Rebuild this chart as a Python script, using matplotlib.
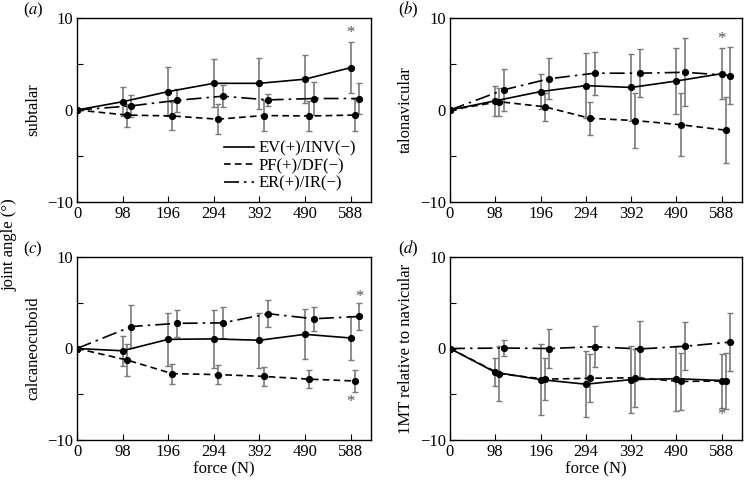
import matplotlib
matplotlib.use("Agg")
import matplotlib.pyplot as plt
from matplotlib.lines import Line2D
import numpy as np

plt.rcParams['font.family'] = ['Liberation Serif', 'DejaVu Serif']
plt.rcParams['mathtext.fontset'] = 'stix'

force = [0, 98, 196, 294, 392, 490, 588]
xticklabels = ['0', '98', '196', '294', '392', '490', '588']
series_names = ['EV(+)/INV(\u2212)', 'PF(+)/DF(\u2212)', 'ER(+)/IR(\u2212)']
panel_letters = ['a', 'b', 'c', 'd']
panel_ylabels = ['subtalar', 'talonavicular', 'calcaneocuboid', '1MT relative to navicular']

# panel (a) subtalar
a_ev = [0, 0.9, 2.0, 2.9, 2.9, 3.35, 4.6]
a_ev_err = [0, 1.6, 2.65, 2.6, 2.8, 2.6, 2.75]
a_pf = [0, -0.55, -0.65, -1.0, -0.6, -0.65, -0.55]
a_pf_err = [0, 1.25, 1.5, 1.65, 1.7, 1.6, 1.7]
a_er = [0, 0.45, 1.05, 1.5, 1.1, 1.25, 1.25]
a_er_err = [0, 1.2, 1.25, 1.2, 0.65, 1.8, 1.7]

# panel (b) talonavicular
b_ev = [0, 1.0, 2.0, 2.65, 2.45, 3.15, 3.95]
b_ev_err = [0, 1.6, 1.9, 3.5, 3.6, 3.6, 2.8]
b_pf = [0, 0.9, 0.35, -0.9, -1.15, -1.6, -2.2]
b_pf_err = [0, 1.5, 1.5, 1.8, 3.0, 3.4, 3.6]
b_er = [0, 2.2, 3.4, 4.0, 4.0, 4.1, 3.75]
b_er_err = [0, 2.3, 2.2, 2.35, 2.6, 3.7, 3.1]

# panel (c) calcaneocuboid
c_ev = [0, -0.25, 1.0, 1.05, 0.9, 1.55, 1.15]
c_ev_err = [0, 1.65, 2.9, 3.15, 3.0, 2.75, 2.4]
c_pf = [0, -1.25, -2.75, -2.85, -3.05, -3.35, -3.55]
c_pf_err = [0, 1.75, 1.1, 1.05, 1.05, 1.0, 1.2]
c_er = [0, 2.4, 2.75, 2.8, 3.8, 3.25, 3.5]
c_er_err = [0, 2.3, 1.5, 1.7, 1.45, 1.3, 1.45]

# panel (d) 1MT relative to navicular
d_ev = [0, -2.6, -3.4, -3.9, -3.4, -3.3, -3.5]
d_ev_err = [0, 1.55, 3.85, 3.6, 3.65, 3.55, 2.95]
d_pf = [0, -2.75, -3.35, -3.25, -3.2, -3.6, -3.55]
d_pf_err = [0, 3.0, 2.3, 2.65, 3.15, 3.1, 3.1]
d_er = [0, 0.05, 0.0, 0.2, -0.05, 0.25, 0.7]
d_er_err = [0, 0.85, 2.15, 2.25, 3.05, 2.6, 3.2]

panels = [
    [(a_ev, a_ev_err), (a_pf, a_pf_err), (a_er, a_er_err)],
    [(b_ev, b_ev_err), (b_pf, b_pf_err), (b_er, b_er_err)],
    [(c_ev, c_ev_err), (c_pf, c_pf_err), (c_er, c_er_err)],
    [(d_ev, d_ev_err), (d_pf, d_pf_err), (d_er, d_er_err)],
]

# significance markers: (panel, x, y)
stars = [(0, 588, 8.4), (1, 588, 7.7), (2, 607, 5.6), (2, 588, -5.8), (3, 588, -7.3)]

offsets = [0, 9, 19]
styles = ['-', (0, (4, 2.5)), (0, (9, 3, 1.5, 3))]

fig = plt.figure(figsize=(7.46, 4.8), dpi=100)
positions = [
    [77/746, 1 - 202/480, 294/746, 184/480],
    [450/746, 1 - 202/480, 292/746, 184/480],
    [77/746, 1 - 440/480, 294/746, 183/480],
    [450/746, 1 - 440/480, 292/746, 183/480],
]
label_dx = [-44, -42, -44, -42]

grey = '#7a7a7a'
FS = 12
for i, (pos, data) in enumerate(zip(positions, panels)):
    ax = fig.add_axes(pos)
    for j, (vals, errs) in enumerate(data):
        x = np.array(force, dtype=float) + np.array([0] + [offsets[j]] * 6)
        ax.errorbar(x[1:], vals[1:], yerr=errs[1:], fmt='none', ecolor=grey,
                    elinewidth=1.2, capsize=2.5, capthick=1.0, zorder=2)
        ax.plot(x, vals, color='black', linestyle=styles[j], linewidth=1.2,
                marker='o', markersize=4.2, zorder=3)
    ax.set_xlim(0, 632)
    ax.set_ylim(-10, 10)
    ax.set_xticks(force)
    ax.set_xticklabels(xticklabels)
    ax.set_yticks([-10, 0, 10])
    ax.set_yticklabels(['\u221210', '0', '10'])
    ax.set_yticks([-5, 5], minor=True)
    ax.tick_params(axis='both', which='both', direction='in', labelsize=FS,
                   length=4, width=0.8, pad=3)
    for s in ax.spines.values():
        s.set_linewidth(1.0)
    ax.set_ylabel(panel_ylabels[i], fontsize=FS, labelpad=4)
    ax.annotate('(' + '$\\it{' + panel_letters[i] + '}$' + ')', xy=(0, 1),
                xycoords='axes fraction', xytext=(label_dx[i], 8), textcoords='offset pixels',
                fontsize=FS, ha='center', va='center')
    if i >= 2:
        ax.set_xlabel('force (N)', fontsize=FS, labelpad=1)
    if i == 0:
        handles = [Line2D([], [], color='black', linestyle=styles[k], linewidth=1.2)
                   for k in range(3)]
        ax.legend(handles, series_names, loc='lower right', frameon=False, fontsize=FS,
                  handlelength=1.8, handletextpad=0.3, labelspacing=0.1,
                  borderaxespad=0, borderpad=0, bbox_to_anchor=(0.95, 0.055))
    for (p, sx, sy) in stars:
        if p == i:
            ax.text(sx, sy, '*', fontsize=FS, ha='center', va='center', color='#555555')

fig.text(0.013, 0.49, 'joint angle (\u00b0)', rotation=90, fontsize=FS, ha='center', va='center')

fig.savefig('out.png', dpi=100)
